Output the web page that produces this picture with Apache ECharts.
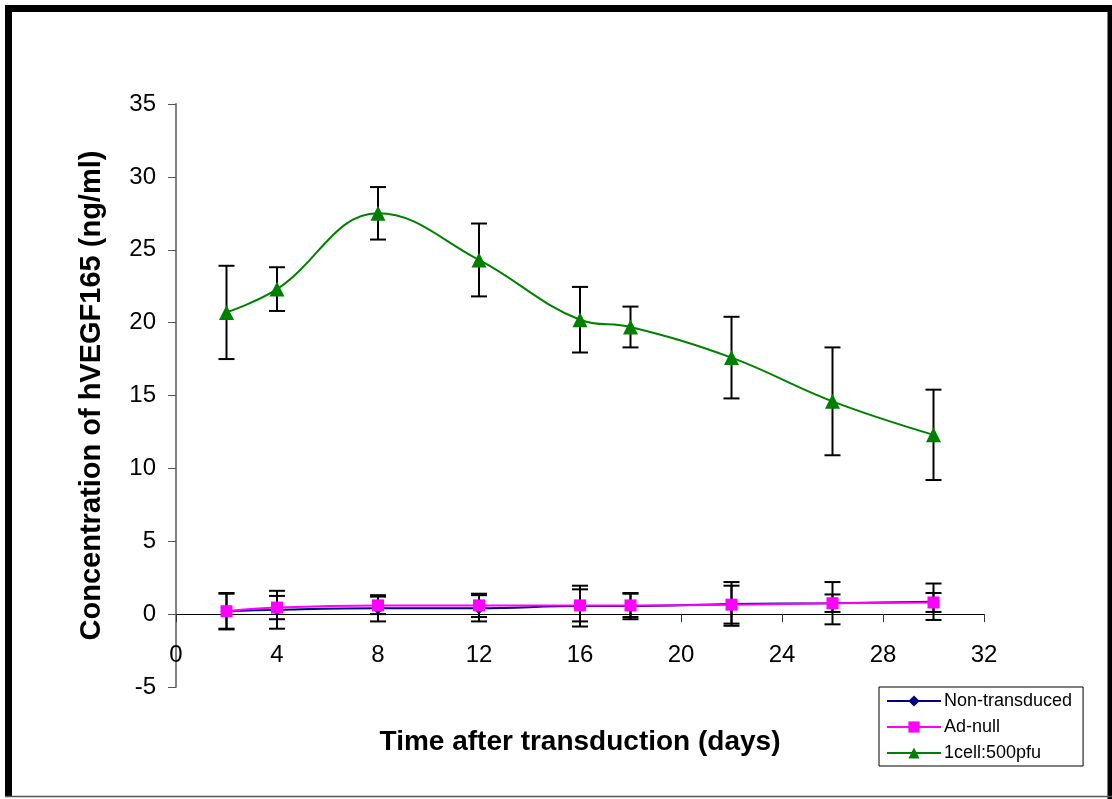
<!DOCTYPE html>
<html>
<head>
<meta charset="utf-8">
<script src="https://cdn.jsdelivr.net/npm/echarts@6/dist/echarts.min.js"></script>
<style>
  html, body { margin: 0; padding: 0; background: #fff; }
  #chart { width: 1112px; height: 799px; }
</style>
</head>
<body>
<div id="chart"></div>
<script>
// days after transduction
const days = [2, 4, 8, 12, 16, 18, 22, 26, 30];

// hVEGF165 concentration (ng/ml) and SD
const nonTransduced = [0.2, 0.3, 0.4, 0.4, 0.55, 0.55, 0.7, 0.75, 0.85];
const nonTransducedErr = [1.25, 1.3, 0.9, 0.9, 1.4, 0.9, 1.5, 1.45, 1.25];
const adNull = [0.2, 0.45, 0.6, 0.6, 0.6, 0.6, 0.65, 0.75, 0.8];
const adNullErr = [1.2, 0.8, 0.6, 0.8, 1.1, 0.8, 1.3, 0.6, 0.65];
const cell500 = [20.7, 22.3, 27.5, 24.3, 20.2, 19.7, 17.6, 14.6, 12.3];
const cell500Err = [3.2, 1.5, 1.8, 2.5, 2.25, 1.4, 2.8, 3.7, 3.1];

const seriesNames = ['Non-transduced', 'Ad-null', '1cell:500pfu'];

const font = '"Liberation Sans", Arial, sans-serif';

function pairs(xs, ys) {
  return xs.map((x, i) => [x, ys[i]]);
}

function errorData(xs, ys, es) {
  return xs.map((x, i) => [x, ys[i] - es[i], ys[i] + es[i]]);
}

function renderErrorBar(params, api) {
  const lo = api.coord([api.value(0), api.value(1)]);
  const hi = api.coord([api.value(0), api.value(2)]);
  const half = 8;
  const style = { stroke: '#000', lineWidth: 2 };
  return {
    type: 'group',
    children: [
      { type: 'line', shape: { x1: hi[0], y1: hi[1], x2: lo[0], y2: lo[1] }, style },
      { type: 'line', shape: { x1: hi[0] - half, y1: hi[1], x2: hi[0] + half, y2: hi[1] }, style },
      { type: 'line', shape: { x1: lo[0] - half, y1: lo[1], x2: lo[0] + half, y2: lo[1] }, style }
    ]
  };
}

function errorSeries(data) {
  return {
    type: 'custom',
    renderItem: renderErrorBar,
    data: data,
    z: 1,
    silent: true,
    encode: { x: 0, y: [1, 2] }
  };
}

const chart = echarts.init(document.getElementById('chart'));

chart.setOption({
  animation: false,
  backgroundColor: '#fff',
  textStyle: { fontFamily: font },
  grid: { left: 176, right: 128, top: 104, bottom: 112, containLabel: false, outerBoundsMode: 'none' },
  graphic: [
    { type: 'line', shape: { x1: 8.5, y1: 8, x2: 8.5, y2: 797 }, style: { stroke: '#000', lineWidth: 7 } },
    { type: 'line', shape: { x1: 5, y1: 8.5, x2: 1112, y2: 8.5 }, style: { stroke: '#000', lineWidth: 7 } },
    { type: 'line', shape: { x1: 1110, y1: 5, x2: 1110, y2: 799 }, style: { stroke: '#000', lineWidth: 5 } },
    { type: 'line', shape: { x1: 5, y1: 796.5, x2: 1112, y2: 796.5 }, style: { stroke: '#555', lineWidth: 1.5 } }
  ],
  legend: {
    data: seriesNames,
    orient: 'vertical',
    left: 879,
    top: 687,
    width: 205,
    padding: [5, 11, 4, 7],
    itemGap: 8,
    itemWidth: 54,
    itemHeight: 14,
    backgroundColor: '#fff',
    borderColor: '#000',
    borderWidth: 1,
    borderRadius: 0,
    textStyle: { fontSize: 18, color: '#000', fontFamily: font, padding: [0, 0, 0, -2] }
  },
  xAxis: {
    type: 'value',
    min: 0,
    max: 32,
    interval: 4,
    name: 'Time after transduction (days)',
    nameLocation: 'middle',
    nameGap: 41,
    nameTextStyle: { fontSize: 28, fontWeight: 'bold', color: '#000', fontFamily: font },
    axisLine: { onZero: true, lineStyle: { color: '#000', width: 1 } },
    axisTick: { inside: false, length: 8, lineStyle: { color: '#333', width: 1 } },
    axisLabel: { fontSize: 24, color: '#000', margin: -44, fontFamily: font },
    splitLine: { show: false }
  },
  yAxis: {
    type: 'value',
    min: -5,
    max: 35,
    interval: 5,
    name: 'Concentration of hVEGF165 (ng/ml)',
    nameLocation: 'middle',
    nameGap: 70,
    nameRotate: 90,
    nameTextStyle: { fontSize: 29, fontWeight: 'bold', color: '#000', fontFamily: font },
    axisLine: { onZero: false, lineStyle: { color: '#808080', width: 2 } },
    axisTick: { length: 8, lineStyle: { color: '#555', width: 1 } },
    axisLabel: { fontSize: 24, color: '#000', margin: 20, fontFamily: font },
    splitLine: { show: false }
  },
  series: [
    errorSeries(errorData(days, nonTransduced, nonTransducedErr)),
    errorSeries(errorData(days, adNull, adNullErr)),
    errorSeries(errorData(days, cell500, cell500Err)),
    {
      name: seriesNames[0],
      type: 'line',
      data: pairs(days, nonTransduced),
      smooth: 0.4,
      symbol: 'diamond',
      symbolSize: 12,
      z: 3,
      lineStyle: { color: '#000080', width: 2 },
      itemStyle: { color: '#000080' }
    },
    {
      name: seriesNames[1],
      type: 'line',
      data: pairs(days, adNull),
      smooth: 0.4,
      symbol: 'rect',
      symbolSize: 12,
      z: 4,
      lineStyle: { color: '#ff00ff', width: 2 },
      itemStyle: { color: '#ff00ff' }
    },
    {
      name: seriesNames[2],
      type: 'line',
      data: pairs(days, cell500),
      smooth: 0.4,
      symbol: 'triangle',
      symbolSize: 15,
      z: 5,
      lineStyle: { color: '#008000', width: 2 },
      itemStyle: { color: '#008000' }
    }
  ]
});
</script>
</body>
</html>
